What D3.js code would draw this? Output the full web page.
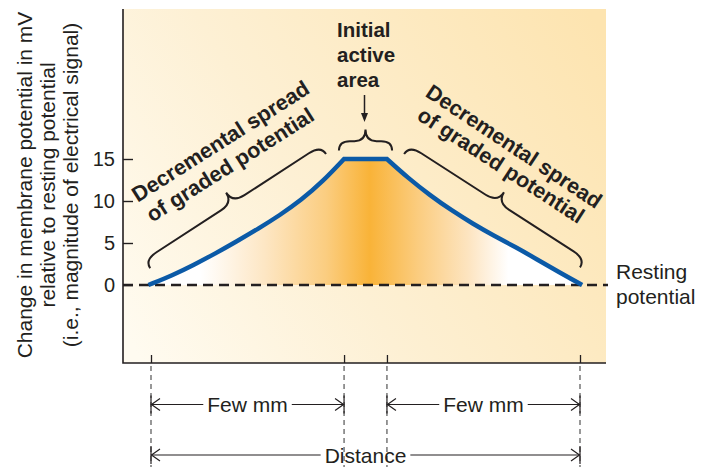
<!DOCTYPE html>
<html>
<head>
<meta charset="utf-8">
<script src="https://cdn.jsdelivr.net/npm/d3@7"></script>
<style>
  html, body { margin: 0; padding: 0; background: #fff; }
  svg { display: block; font-family: "Liberation Sans", Arial, Helvetica, sans-serif; }
</style>
</head>
<body>
<svg id="chart"></svg>
<script>
/* Graded potential: decremental spread from the initial active area */

// Potential (mV above resting) along the membrane, distance in arbitrary units
const leftSpreadDistance = [-0.6, 5, 10, 15, 20, 25, 30, 35, 40, 45];
const leftSpreadMv = [0, 1.15, 2.4, 3.75, 5.2, 6.7, 8.3, 10.1, 12.3, 15];
const rightSpreadDistance = [55, 60, 65, 70, 75, 80, 85, 90, 95, 100.5];
const rightSpreadMv = [15, 12.7, 10.7, 8.9, 7.3, 5.85, 4.5, 3.05, 1.55, 0];

const yTicks = [0, 5, 10, 15];
const distanceMarks = [0, 45, 55, 100];
const spanFrom = [0, 55, 0];
const spanTo = [45, 100, 100];
const spanLabels = ['Few mm', 'Few mm', 'Distance'];

const axisTitleLines = [
    'Change in membrane potential in mV',
    'relative to resting potential',
    '(i.e., magnitude of electrical signal)'
];
const activeAreaLines = ['Initial', 'active', 'area'];
const spreadLines = ['Decremental spread', 'of graded potential'];
const restingLines = ['Resting', 'potential'];

(function() {
    'use strict';

    const width = 710, height = 467;
    const ink = '#231f20';
    const frame = { left: 123, top: 9, right: 606, bottom: 363 };

    const svg = d3.select('#chart')
        .attr('width', width)
        .attr('height', height);

    const x = d3.scaleLinear().domain([0, 100]).range([151, 580]);
    const y = d3.scaleLinear().domain([0, 15]).range([285, 159]);

    const defs = svg.append('defs');

    // Panel background: pale cream bottom-left to warm peach top-right
    const bg = defs.append('linearGradient')
        .attr('id', 'panel-bg')
        .attr('gradientUnits', 'userSpaceOnUse')
        .attr('x1', frame.left).attr('y1', 330)
        .attr('x2', frame.right).attr('y2', 40);
    [[0, '#fffbf0'], [0.4, '#fdf0d4'], [1, '#fde4b0']].forEach(s => {
        bg.append('stop').attr('offset', s[0]).attr('stop-color', s[1]);
    });

    // Area under the curve: white at the edges, orange at the active area
    const glow = defs.append('linearGradient')
        .attr('id', 'area-glow')
        .attr('gradientUnits', 'userSpaceOnUse')
        .attr('x1', x(-0.6)).attr('y1', 0)
        .attr('x2', x(100.5)).attr('y2', 0);
    [[0, '#ffffff'], [0.12, '#ffffff'], [0.27, '#fde6c3'], [0.41, '#fbcd80'],
     [0.51, '#f9b338'], [0.62, '#fbcc7e'], [0.74, '#fde5c2'], [0.83, '#ffffff'], [1, '#ffffff']]
        .forEach(s => {
            glow.append('stop').attr('offset', s[0]).attr('stop-color', s[1]);
        });

    svg.append('rect')
        .attr('x', frame.left)
        .attr('y', frame.top)
        .attr('width', frame.right - frame.left)
        .attr('height', frame.bottom - frame.top)
        .attr('fill', 'url(#panel-bg)');

    // Curve path = left spread + flat active area + right spread
    const left = leftSpreadDistance.map((d, i) => [d, leftSpreadMv[i]]);
    const right = rightSpreadDistance.map((d, i) => [d, rightSpreadMv[i]]);

    const line = d3.line()
        .x(d => x(d[0]))
        .y(d => y(d[1]))
        .curve(d3.curveBasis);

    const curvePath = line(left) + line(right).replace(/^M/, 'L');

    svg.append('path')
        .attr('d', curvePath + `L${x(100.5)},${y(0)}L${x(-0.6)},${y(0)}Z`)
        .attr('fill', 'url(#area-glow)');

    // Resting potential baseline
    svg.append('line')
        .attr('x1', frame.left)
        .attr('x2', frame.right + 2)
        .attr('y1', y(0))
        .attr('y2', y(0))
        .attr('stroke', ink)
        .attr('stroke-width', 2.6)
        .attr('stroke-dasharray', '10,6');

    svg.append('path')
        .attr('d', curvePath)
        .attr('fill', 'none')
        .attr('stroke', '#0b5aa7')
        .attr('stroke-width', 4.5)
        .attr('stroke-linejoin', 'miter');

    // Frame lines
    svg.append('path')
        .attr('d', `M${frame.left},${frame.top}V${frame.bottom}H${frame.right}`)
        .attr('fill', 'none')
        .attr('stroke', ink)
        .attr('stroke-width', 1.6);

    // Y axis
    const yAxis = svg.append('g')
        .attr('transform', `translate(${frame.left}, 0)`)
        .call(d3.axisLeft(y)
            .tickValues(yTicks)
            .tickSizeInner(-10)
            .tickSizeOuter(0)
            .tickPadding(8));
    yAxis.select('.domain').remove();
    yAxis.selectAll('line').attr('stroke', ink).attr('stroke-width', 1.4);
    yAxis.selectAll('text')
        .attr('fill', ink)
        .style('font-family', '"Liberation Sans", Arial, sans-serif')
        .style('font-size', '20px');

    // X axis marks
    const xAxis = svg.append('g')
        .attr('transform', `translate(0, ${frame.bottom})`)
        .call(d3.axisBottom(x)
            .tickValues(distanceMarks)
            .tickSizeInner(-8)
            .tickSizeOuter(0)
            .tickFormat(''));
    xAxis.select('.domain').remove();
    xAxis.selectAll('line').attr('stroke', ink).attr('stroke-width', 1.3);

    // Y axis title
    const title = svg.append('g')
        .attr('transform', 'translate(0, 185) rotate(-90)');
    title.selectAll('text')
        .data(axisTitleLines)
        .enter()
        .append('text')
        .attr('x', 0)
        .attr('y', (d, i) => 31.5 + i * 23.3)
        .attr('text-anchor', 'middle')
        .attr('fill', ink)
        .style('font-size', '21px')
        .text(d => d);

    // Curly brace between two points, tip pushed out by depth
    function brace(p1, p2, depth, r) {
        const dx = p2[0] - p1[0], dy = p2[1] - p1[1];
        const L = Math.hypot(dx, dy);
        const ang = Math.atan2(dy, dx) * 180 / Math.PI;
        const h = depth * 0.45;
        const m = L / 2;
        const d = `M0,0Q0,${-h} ${r},${-h}L${m - r},${-h}Q${m},${-h} ${m},${-depth}` +
            `Q${m},${-h} ${m + r},${-h}L${L - r},${-h}Q${L},${-h} ${L},0`;
        svg.append('path')
            .attr('d', d)
            .attr('transform', `translate(${p1[0]}, ${p1[1]}) rotate(${ang})`)
            .attr('fill', 'none')
            .attr('stroke', ink)
            .attr('stroke-width', 2);
    }

    brace([x(-0.2), y(2.0)], [x(40.8), y(15.6)], 22, 14);
    brace([x(43.8), y(16)], [x(56.2), y(16)], 21, 11);
    brace([x(59), y(15.6)], [x(100), y(2.1)], 22, 14);

    // Spread labels
    function rotatedLines(centres, angles) {
        spreadLines.forEach((t, i) => {
            svg.append('text')
                .attr('transform', `translate(${centres[i][0]}, ${centres[i][1]}) rotate(${angles[i]})`)
                .attr('text-anchor', 'middle')
                .attr('fill', ink)
                .style('font-size', '21.5px')
                .style('font-weight', 700)
                .text(t);
        });
    }
    rotatedLines([[224.5, 147.5], [234, 171]], [-32.5, -32.3]);
    rotatedLines([[510, 152.5], [497, 171.5]], [33.5, 33]);

    // Initial active area label and arrow
    svg.selectAll('.active-label')
        .data(activeAreaLines)
        .enter()
        .append('text')
        .attr('class', 'active-label')
        .attr('x', 337)
        .attr('y', (d, i) => 37 + i * 25)
        .attr('fill', ink)
        .style('font-size', '20.5px')
        .style('font-weight', 700)
        .text(d => d);

    const ax = x(50) - 1;
    svg.append('line')
        .attr('x1', ax).attr('x2', ax)
        .attr('y1', 95).attr('y2', 114)
        .attr('stroke', ink)
        .attr('stroke-width', 1.5);
    svg.append('path')
        .attr('d', `M${ax - 3.5},113L${ax + 3.5},113L${ax},122Z`)
        .attr('fill', ink);

    // Resting potential label
    svg.selectAll('.rest-label')
        .data(restingLines)
        .enter()
        .append('text')
        .attr('class', 'rest-label')
        .attr('x', 616)
        .attr('y', (d, i) => 279 + i * 24.5)
        .attr('fill', ink)
        .style('font-size', '21px')
        .text(d => d);

    // Dashed drop lines below the axis
    svg.selectAll('.drop')
        .data(distanceMarks)
        .enter()
        .append('line')
        .attr('class', 'drop')
        .attr('x1', d => x(d)).attr('x2', d => x(d))
        .attr('y1', frame.bottom + 3).attr('y2', height)
        .attr('stroke', '#444')
        .attr('stroke-width', 1.1)
        .attr('stroke-dasharray', '5,4');

    // Dimension arrows
    const rowY = [404.5, 404.5, 455];
    spanLabels.forEach((label, i) => {
        const x0 = x(spanFrom[i]), x1 = x(spanTo[i]), yy = rowY[i];
        const g = svg.append('g')
            .attr('stroke', ink)
            .attr('stroke-width', 1.2)
            .attr('fill', 'none');

        const txt = svg.append('text')
            .attr('x', (x0 + x1) / 2)
            .attr('y', yy + 7.5)
            .attr('text-anchor', 'middle')
            .attr('fill', ink)
            .style('font-size', '21px')
            .text(label);
        const tw = txt.node().getComputedTextLength();
        const mid = (x0 + x1) / 2;

        g.append('path').attr('d', `M${x0},${yy}H${mid - tw / 2 - 4}`);
        g.append('path').attr('d', `M${mid + tw / 2 + 4},${yy}H${x1}`);
        g.append('path').attr('d', `M${x0 + 9},${yy - 6}L${x0 + 0.5},${yy}L${x0 + 9},${yy + 6}`);
        g.append('path').attr('d', `M${x1 - 9},${yy - 6}L${x1 - 0.5},${yy}L${x1 - 9},${yy + 6}`);
        g.append('path').attr('d', `M${x0},${yy - 9}V${yy + 9}M${x1},${yy - 9}V${yy + 9}`);
    });
})();
</script>
</body>
</html>
